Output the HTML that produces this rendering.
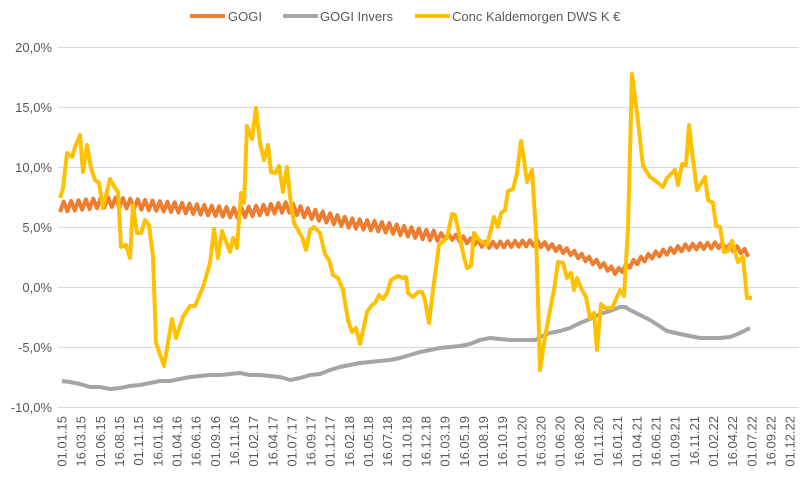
<!DOCTYPE html>
<html><head><meta charset="utf-8"><style>
body{margin:0;background:#fff}
svg{display:block;font-family:"Liberation Sans",sans-serif}
</style></head><body>
<svg id="s" width="802" height="480" xmlns="http://www.w3.org/2000/svg">
<rect width="802" height="480" fill="#fff"/>
<g stroke="#d9d9d9" stroke-width="1">
<line x1="58" x2="799" y1="47.5" y2="47.5"/><line x1="58" x2="799" y1="107.5" y2="107.5"/>
<line x1="58" x2="799" y1="167.5" y2="167.5"/><line x1="58" x2="799" y1="227.5" y2="227.5"/>
<line x1="58" x2="799" y1="287.5" y2="287.5"/><line x1="58" x2="799" y1="347.5" y2="347.5"/>
<line x1="58" x2="799" y1="407.5" y2="407.5"/>
</g>
<g fill="#595959" font-size="13" text-anchor="end">
<text x="52" y="52">20,0%</text><text x="52" y="112">15,0%</text><text x="52" y="172">10,0%</text>
<text x="52" y="232">5,0%</text><text x="52" y="292">0,0%</text><text x="52" y="352">-5,0%</text>
<text x="52" y="412">-10,0%</text>
</g>
<g id="xl" fill="#595959" font-size="13" text-anchor="end"></g>
<g font-size="13" fill="#595959">
<line x1="190" x2="225" y1="16" y2="16" stroke="#ed7d31" stroke-width="4"/><text x="228" y="21">GOGI</text>
<line x1="283" x2="318" y1="16" y2="16" stroke="#a5a5a5" stroke-width="4"/><text x="320" y="21">GOGI Invers</text>
<line x1="415" x2="450" y1="16" y2="16" stroke="#ffc000" stroke-width="4"/><text x="452" y="21">Conc Kaldemorgen DWS K €</text>
</g>
<polyline fill="none" stroke="#a5a5a5" stroke-width="4" stroke-linejoin="round" points="62,381 70,382 80,384 90,387 100,387 110,389 120,388 130,386 140,385 150,383 160,381 170,381 180,379 190,377 200,376 210,375 220,375 230,374 240,373 250,375 260,375 270,376 280,377 290,380 300,378 310,375 320,374 330,370 340,367 350,365 360,363 370,362 380,361 390,360 400,358 410,355 420,352 430,350 440,348 450,347 460,346 470,344 480,340 490,338 500,339 510,340 523,340 535,340 542,336 550,333 560,331 570,328 580,323 590,319 600,314 610,311 620,307 625,307 630,310 640,315 650,320 667,331 680,334 700,338 720,338 730,337 740,333 750,328"/>
<polyline id="og" fill="none" stroke="#ed7d31" stroke-width="4" stroke-linejoin="round"/>
<polyline fill="none" stroke="#ffc000" stroke-width="4" stroke-linejoin="round" points="60,198 63,188 67,153 72,157 75,147 80,135 83,172 87,145 91,168 95,180 99,183 103,208 110,179 115,188 118,192 121,247 126,245 130,258 133,205 137,233 141,233 145,220 149,225 153,257 156,343 164,366 172,319 176,338 183,317 190,306 195,306 203,287 210,263 214,229 218,258 222,231 230,252 233,238 237,248 241,193 244,203 247,126 252,139 256,108 260,143 264,160 268,145 271,172 275,173 279,166 283,192 287,167 290,196 294,223 302,237 306,250 310,230 314,227 320,233 325,254 329,260 333,275 338,278 343,290 348,320 352,332 356,328 360,344 367,312 372,305 375,303 379,295 383,299 387,293 391,280 398,276 403,278 406,277 408,293 413,297 418,292 422,292 425,300 429,323 433,290 439,245 447,238 452,214 455,215 459,233 463,253 467,268 471,266 474,233 479,240 487,245 494,217 498,227 501,213 505,210 508,191 513,189 517,173 521,141 524,160 527,182 532,170 536,233 540,370 545,337 550,310 554,290 558,262 563,263 567,278 571,273 574,290 577,278 582,290 586,297 590,318 594,313 597,350 601,304 605,308 612,308 617,297 620,290 624,296 628,228 632,74 637,113 643,166 650,177 657,182 663,187 667,178 675,170 678,185 682,164 686,165 689,125 693,160 697,190 705,177 708,200 713,203 716,226 720,227 724,252 728,251 732,241 738,262 743,257 747,298 752,298"/>
</svg>
<script>
var labels="01.01.15,16.03.15,01.06.15,16.08.15,01.11.15,16.01.16,01.04.16,16.06.16,01.09.16,16.11.16,01.02.17,16.04.17,01.07.17,16.09.17,01.12.17,16.02.18,01.05.18,16.07.18,01.10.18,16.12.18,01.03.19,16.05.19,01.08.19,16.10.19,01.01.20,16.03.20,01.06.20,16.08.20,01.11.20,16.01.21,01.04.21,16.06.21,01.09.21,16.11.21,01.02.22,16.04.22,01.07.22,16.09.22,01.12.22".split(",");
var g=document.getElementById("xl"),h="";
for(var i=0;i<labels.length;i++){var x=62+i*19.16+4.5;h+='<text transform="translate('+x.toFixed(1)+',416) rotate(-90)">'+labels[i]+'</text>';}
g.innerHTML=h;
var c=[[60,207],[110,202],[183,208],[237,213],[287,207],[303,212],[350,223],[383,227],[427,235],[453,237],[487,245],[537,243],[570,252],[597,263],[617,272],[633,263],[653,255],[687,247],[720,245],[740,250],[751,255]];
function cy(x){for(var k=0;k<c.length-1;k++){if(x<=c[k+1][0]){var t=(x-c[k][0])/(c[k+1][0]-c[k][0]);return c[k][1]+t*(c[k+1][1]-c[k][1]);}}return c[c.length-1][1];}
var p=[],s=1;
for(var x=60;x<=751;x+=3.7){var a=x<440?5:3;p.push(x.toFixed(1)+","+(cy(x)+s*a).toFixed(1));s=-s;}
document.getElementById("og").setAttribute("points",p.join(" "));
</script>
</body></html>
